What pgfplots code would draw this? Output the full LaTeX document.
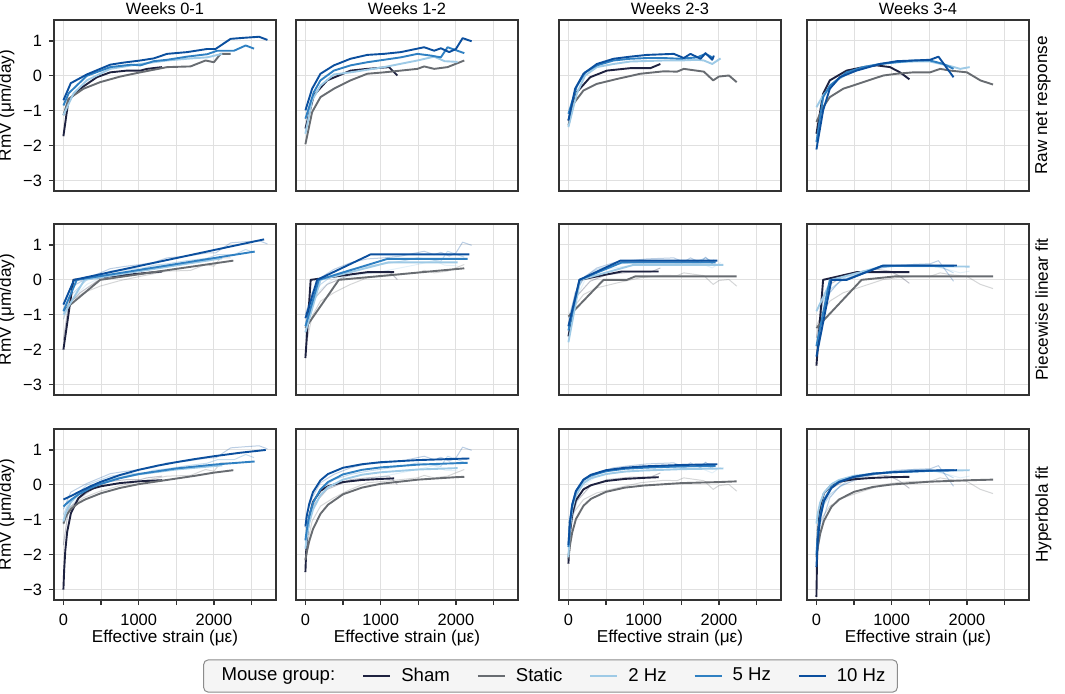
\documentclass[border=0pt]{standalone}
\usepackage{fontspec}
\setmainfont{Liberation Sans}
\usepackage{pgfplots}
\usepackage{pgfplotstable}
\pgfplotsset{compat=1.18}

\definecolor{cSham}{HTML}{1E2240}
\definecolor{cStatic}{HTML}{686C71}
\definecolor{cTwo}{HTML}{9ECAE6}
\definecolor{cFive}{HTML}{2F80C2}
\definecolor{cTen}{HTML}{0B4F9E}

% ---------- raw net response, weeks 0-1 ----------
\pgfplotstableread{
x y
0 -1.73
67 -0.70
222 -0.37
444 -0.04
622 0.10
844 0.15
1022 0.15
1111 0.20
1311 0.25
}\rawAsham
\pgfplotstableread{
x y
0 -1.13
67 -0.66
267 -0.37
489 -0.18
756 -0.02
1022 0.10
1378 0.25
1689 0.27
1889 0.44
2000 0.39
2089 0.63
2222 0.63
}\rawAstat
\pgfplotstableread{
x y
0 -1.13
133 -0.51
311 -0.13
622 0.20
1022 0.34
1378 0.44
1700 0.50
1911 0.53
2111 0.63
}\rawAtwo
\pgfplotstableread{
x y
0 -0.85
70 -0.50
311 0.00
622 0.25
900 0.32
1022 0.30
1200 0.42
1378 0.46
1644 0.55
1911 0.62
2044 0.72
2267 0.72
2422 0.87
2533 0.78
}\rawAfive
\pgfplotstableread{
x y
0 -0.70
98 -0.21
311 0.04
622 0.32
800 0.38
1022 0.44
1200 0.50
1378 0.63
1644 0.68
1911 0.77
2022 0.77
2222 1.06
2400 1.09
2600 1.12
2711 1.03
}\rawAten
% ---------- weeks 1-2 ----------
\pgfplotstableread{
x y
0 -1.51
111 -0.56
289 -0.13
600 0.15
822 0.20
1111 0.25
1222 0.01
}\rawBsham
\pgfplotstableread{
x y
0 -1.96
89 -1.04
200 -0.61
378 -0.37
600 -0.13
822 0.06
1044 0.10
1489 0.20
1578 0.27
1711 0.20
1889 0.25
2111 0.44
}\rawBstat
\pgfplotstableread{
x y
0 -1.66
89 -0.70
200 -0.28
378 0.04
600 0.10
1044 0.25
1489 0.44
1711 0.55
1850 0.42
2022 0.40
}\rawBtwo
\pgfplotstableread{
x y
0 -1.23
111 -0.47
200 -0.13
378 0.15
600 0.30
822 0.39
1267 0.53
1489 0.63
1667 0.58
1800 0.53
1889 0.82
2111 0.65
}\rawBfive
\pgfplotstableread{
x y
0 -0.99
89 -0.37
200 0.06
378 0.30
600 0.49
822 0.60
1044 0.63
1267 0.68
1578 0.82
1711 0.72
1800 0.79
1911 0.68
2000 0.77
2089 1.08
2209 0.99
}\rawBten
% ---------- weeks 2-3 ----------
\pgfplotstableread{
x y
0 -1.28
111 -0.47
289 -0.04
511 0.15
822 0.22
1089 0.22
1222 0.34
}\rawCsham
\pgfplotstableread{
x y
0 -1.42
67 -0.80
200 -0.42
378 -0.23
644 -0.09
956 0.06
1267 0.13
1444 0.12
1533 0.20
1800 0.12
1924 -0.13
2000 -0.02
2133 0.01
2236 -0.18
}\rawCstat
\pgfplotstableread{
x y
0 -1.47
111 -0.51
222 0.01
378 0.25
600 0.34
822 0.41
1267 0.44
1489 0.44
1711 0.46
1800 0.44
1911 0.34
2022 0.50
}\rawCtwo
\pgfplotstableread{
x y
0 -1.09
111 -0.30
222 0.10
378 0.30
600 0.44
822 0.49
1044 0.51
1267 0.51
1489 0.49
1711 0.53
1822 0.63
1911 0.53
}\rawCfive
\pgfplotstableread{
x y
0 -1.28
89 -0.37
200 0.06
378 0.34
600 0.49
822 0.55
1044 0.60
1400 0.63
1533 0.51
1622 0.63
1756 0.49
1822 0.65
1911 0.46
1933 0.58
}\rawCten
% ---------- weeks 3-4 ----------
\pgfplotstableread{
x y
0 -1.66
89 -0.51
178 -0.13
400 0.15
622 0.25
800 0.30
978 0.25
1111 0.10
1236 -0.10
}\rawDsham
\pgfplotstableread{
x y
0 -1.32
89 -0.90
178 -0.61
356 -0.37
622 -0.18
889 0.01
1067 0.06
1289 0.10
1511 0.10
1644 0.20
1778 0.15
2000 0.10
2178 -0.13
2347 -0.25
}\rawDstat
\pgfplotstableread{
x y
0 -0.90
89 -0.56
267 -0.13
444 0.10
622 0.25
844 0.34
1067 0.39
1289 0.41
1511 0.41
1778 0.28
1911 0.20
2036 0.25
}\rawDtwo
\pgfplotstableread{
x y
0 -1.90
89 -0.61
178 -0.28
400 0.10
622 0.25
844 0.34
1067 0.39
1289 0.44
1511 0.44
1689 0.34
1822 0.20
}\rawDfive
\pgfplotstableread{
x y
0 -2.11
89 -0.99
178 -0.37
311 -0.04
533 0.15
844 0.34
1067 0.42
1289 0.44
1511 0.46
1622 0.55
1822 -0.04
}\rawDten

\newcommand{\rawlines}[6]{%
  \addplot[#1,cSham] table {#2};
  \addplot[#1,cStatic] table {#3};
  \addplot[#1,cTwo] table {#4};
  \addplot[#1,cFive] table {#5};
  \addplot[#1,cTen] table {#6};
}

\newcommand{\labfont}{\fontsize{8.6}{10}\selectfont}
\pgfplotsset{
  rawmain/.style={line width=0.95pt},
  rawfaint/.style={line width=0.5pt, opacity=0.28},
  panel/.style={
    scale only axis, width=111pt, height=85.5pt,
    xmin=-125, xmax=2825, ymin=-3.3, ymax=1.6,
    xtick={0,500,1000,1500,2000,2500}, ytick={-3,-2,-1,0,1},
    grid=major, major grid style={draw=black!12, line width=0.5pt},
    axis line style={draw=black!80, line width=0.7pt},
    tick align=outside, major tick length=2.5pt,
    tick style={draw=black!80, line width=0.6pt},
    tick pos=left, xticklabels={}, yticklabels={},
    clip mode=individual,
    font=\fontsize{8.2}{9.8}\selectfont,
    tick label style={font=\fontsize{8.2}{9.8}\selectfont},
    every axis plot/.append style={line width=0.95pt, line join=round},
    no markers,
  },
  noxt/.style={xtick style={draw=none}},
  noyt/.style={ytick style={draw=none}},
  bottomrow/.style={xticklabels={0,{},1000,{},2000,{}},
    xticklabel style={yshift=-0.8pt}},
  leftcol/.style={yticklabels={−3,−2,−1,0,1}},
}
\newcommand{\xlab}{\node[anchor=north, inner sep=0pt, font=\labfont] at (axis description cs:0.5,-0.175) {Effective strain (με)};}
\newcommand{\ylab}{\node[rotate=90, anchor=south, inner sep=0pt, font=\labfont] at (axis description cs:-0.176,0.5) {RmV (μm/day)};}
\newcommand{\rlab}[1]{\node[rotate=90, anchor=north, inner sep=0pt, font=\labfont] at (axis description cs:1.027,0.5) {#1};}
\newcommand{\ttl}[1]{\node[anchor=south, inner sep=0pt, font=\fontsize{8.2}{9.8}\selectfont] at (axis description cs:0.5,1.03) {#1};}

\begin{document}
\begin{tikzpicture}
\useasboundingbox (0,0) rectangle (532.5pt,346.5pt);

% ================= ROW 1 =================
\begin{axis}[panel, noxt, leftcol, at={(27pt,251pt)}, anchor=south west]
\rawlines{rawmain}{\rawAsham}{\rawAstat}{\rawAtwo}{\rawAfive}{\rawAten}
\ylab
\ttl{Weeks 0-1}
\end{axis}
\begin{axis}[panel, noxt, noyt, at={(148pt,251pt)}, anchor=south west]
\rawlines{rawmain}{\rawBsham}{\rawBstat}{\rawBtwo}{\rawBfive}{\rawBten}
\ttl{Weeks 1-2}
\end{axis}
\begin{axis}[panel, noxt, noyt, at={(279.5pt,251pt)}, anchor=south west]
\rawlines{rawmain}{\rawCsham}{\rawCstat}{\rawCtwo}{\rawCfive}{\rawCten}
\ttl{Weeks 2-3}
\end{axis}
\begin{axis}[panel, noxt, noyt, at={(403.5pt,251pt)}, anchor=south west]
\rawlines{rawmain}{\rawDsham}{\rawDstat}{\rawDtwo}{\rawDfive}{\rawDten}
\ttl{Weeks 3-4}
\rlab{Raw net response}
\end{axis}

% ================= ROW 2 =================
\begin{axis}[panel, noxt, leftcol, at={(27pt,149pt)}, anchor=south west]
\rawlines{rawfaint}{\rawAsham}{\rawAstat}{\rawAtwo}{\rawAfive}{\rawAten}
\addplot[cSham] coordinates {(0,-2.0) (133,0) (1311,0.24)};
\addplot[cStatic] coordinates {(0,-0.88) (489,0) (2258,0.55)};
\addplot[cTwo] coordinates {(0,-1.0) (280,0) (2111,0.62)};
\addplot[cFive] coordinates {(0,-0.9) (178,0) (2542,0.81)};
\addplot[cTen] coordinates {(0,-0.71) (142,0) (2667,1.16)};
\ylab
\end{axis}
\begin{axis}[panel, noxt, noyt, at={(148pt,149pt)}, anchor=south west]
\rawlines{rawfaint}{\rawBsham}{\rawBstat}{\rawBtwo}{\rawBfive}{\rawBten}
\addplot[cSham] coordinates {(0,-2.24) (70,0) (822,0.22) (1178,0.22)};
\addplot[cStatic] coordinates {(0,-1.38) (444,0) (2111,0.33)};
\addplot[cTwo] coordinates {(0,-1.5) (200,0) (1100,0.5) (2022,0.5)};
\addplot[cFive] coordinates {(0,-1.33) (178,0) (1089,0.6) (2156,0.6)};
\addplot[cTen] coordinates {(0,-1.1) (156,0) (867,0.73) (2178,0.73)};
\end{axis}
\begin{axis}[panel, noxt, noyt, at={(279.5pt,149pt)}, anchor=south west]
\rawlines{rawfaint}{\rawCsham}{\rawCstat}{\rawCtwo}{\rawCfive}{\rawCten}
\addplot[cSham] coordinates {(0,-1.62) (150,0) (711,0.24) (1200,0.24)};
\addplot[cStatic] coordinates {(0,-1.05) (467,0) (778,0) (889,0.1) (2236,0.1)};
\addplot[cTwo] coordinates {(0,-1.79) (156,0) (867,0.43) (2058,0.43)};
\addplot[cFive] coordinates {(0,-1.45) (147,0) (711,0.5) (1956,0.5)};
\addplot[cTen] coordinates {(0,-1.33) (147,0) (689,0.55) (1978,0.55)};
\end{axis}
\begin{axis}[panel, noxt, noyt, at={(403.5pt,149pt)}, anchor=south west]
\rawlines{rawfaint}{\rawDsham}{\rawDstat}{\rawDtwo}{\rawDfive}{\rawDten}
\addplot[cSham] coordinates {(0,-2.46) (89,0) (533,0.22) (1236,0.22)};
\addplot[cStatic] coordinates {(0,-1.38) (600,0) (1050,0.1) (2347,0.1)};
\addplot[cTwo] coordinates {(0,-0.9) (200,0) (900,0.4) (2036,0.38)};
\addplot[cFive] coordinates {(0,-1.9) (178,0) (400,0) (870,0.4) (1830,0.4)};
\addplot[cTen] coordinates {(0,-2.2) (200,0) (400,0) (889,0.41) (1867,0.41)};
\rlab{Piecewise linear fit}
\end{axis}

% ================= ROW 3 =================
\begin{axis}[panel, bottomrow, leftcol, at={(27pt,46.5pt)}, anchor=south west]
\rawlines{rawfaint}{\rawAsham}{\rawAstat}{\rawAtwo}{\rawAfive}{\rawAten}
\addplot[cSham] coordinates {(0,-3.0) (10,-2.44) (25,-1.89) (50,-1.35) (100,-0.81) (200,-0.38) (300,-0.20) (400,-0.10) (500,-0.04) (750,0.05) (1000,0.10) (1311,0.134)};
\addplot[cStatic] coordinates {(0,-1.11) (25,-0.95) (50,-0.84) (100,-0.69) (200,-0.52) (300,-0.41) (500,-0.24) (750,-0.09) (1000,0.02) (1250,0.10) (1500,0.18) (1750,0.26) (2000,0.35) (2258,0.42)};
\addplot[cTwo] coordinates {(0,-1.05) (25,-0.85) (50,-0.70) (100,-0.50) (200,-0.26) (350,-0.05) (500,0.08) (750,0.20) (1000,0.30) (1500,0.44) (2111,0.56)};
\addplot[cFive] coordinates {(0,-0.62) (50,-0.52) (100,-0.43) (200,-0.28) (350,-0.10) (500,0.03) (750,0.19) (1000,0.31) (1500,0.47) (2000,0.58) (2542,0.67)};
\addplot[cTen] coordinates {(0,-0.42) (100,-0.32) (200,-0.21) (350,-0.05) (500,0.09) (750,0.28) (1000,0.43) (1250,0.55) (1500,0.65) (1750,0.74) (2000,0.82) (2350,0.92) (2689,1.0)};
\ylab
\xlab
\end{axis}
\begin{axis}[panel, bottomrow, noyt, at={(148pt,46.5pt)}, anchor=south west]
\rawlines{rawfaint}{\rawBsham}{\rawBstat}{\rawBtwo}{\rawBfive}{\rawBten}
\addplot[cSham] coordinates {(0,-2.5) (10,-1.92) (20,-1.54) (50,-0.92) (100,-0.49) (200,-0.17) (300,-0.04) (500,0.08) (750,0.14) (1000,0.17) (1180,0.185)};
\addplot[cStatic] coordinates {(0,-2.16) (20,-1.91) (50,-1.62) (100,-1.27) (200,-0.83) (300,-0.57) (500,-0.27) (750,-0.08) (1000,0.03) (1500,0.15) (2000,0.22) (2111,0.23)};
\addplot[cTwo] coordinates {(0,-1.83) (20,-1.48) (50,-1.10) (100,-0.71) (200,-0.29) (300,-0.07) (500,0.15) (750,0.29) (1000,0.36) (1500,0.44) (2022,0.48)};
\addplot[cFive] coordinates {(0,-1.59) (20,-1.26) (50,-0.90) (100,-0.52) (200,-0.13) (300,0.08) (500,0.30) (750,0.43) (1000,0.50) (1500,0.58) (2000,0.62) (2156,0.63)};
\addplot[cTen] coordinates {(0,-1.19) (20,-0.87) (50,-0.55) (100,-0.21) (200,0.13) (300,0.31) (500,0.49) (750,0.59) (1000,0.65) (1500,0.71) (2000,0.745) (2178,0.755)};
\xlab
\end{axis}
\begin{axis}[panel, bottomrow, noyt, at={(279.5pt,46.5pt)}, anchor=south west]
\rawlines{rawfaint}{\rawCsham}{\rawCstat}{\rawCtwo}{\rawCfive}{\rawCten}
\addplot[cSham] coordinates {(0,-2.26) (20,-1.41) (50,-0.85) (100,-0.44) (200,-0.13) (300,-0.01) (500,0.11) (750,0.17) (1000,0.20) (1200,0.22)};
\addplot[cStatic] coordinates {(0,-2.11) (20,-1.74) (50,-1.37) (100,-0.98) (200,-0.60) (300,-0.40) (500,-0.20) (750,-0.08) (1000,-0.02) (1500,0.05) (2000,0.08) (2236,0.10)};
\addplot[cTwo] coordinates {(0,-2.07) (20,-1.26) (50,-0.70) (100,-0.28) (200,0.05) (300,0.19) (500,0.31) (750,0.38) (1000,0.41) (1500,0.45) (2058,0.47)};
\addplot[cFive] coordinates {(0,-1.78) (20,-1.08) (50,-0.57) (100,-0.18) (200,0.14) (300,0.27) (500,0.39) (750,0.46) (1000,0.49) (1500,0.53) (1956,0.54)};
\addplot[cTen] coordinates {(0,-1.73) (20,-1.08) (50,-0.58) (100,-0.18) (200,0.15) (300,0.29) (500,0.42) (750,0.49) (1000,0.53) (1500,0.57) (1978,0.59)};
\xlab
\end{axis}
\begin{axis}[panel, bottomrow, noyt, at={(403.5pt,46.5pt)}, anchor=south west]
\rawlines{rawfaint}{\rawDsham}{\rawDstat}{\rawDtwo}{\rawDfive}{\rawDten}
\addplot[cSham] coordinates {(0,-3.21) (10,-1.94) (20,-1.35) (50,-0.63) (100,-0.24) (200,0.0) (300,0.09) (500,0.16) (750,0.20) (1000,0.22) (1236,0.23)};
\addplot[cStatic] coordinates {(0,-2.07) (20,-1.75) (50,-1.40) (100,-1.03) (200,-0.63) (300,-0.42) (500,-0.20) (750,-0.06) (1000,0.01) (1500,0.09) (2000,0.13) (2347,0.15)};
\addplot[cTwo] coordinates {(0,-1.11) (20,-0.80) (50,-0.51) (100,-0.23) (200,0.02) (300,0.14) (500,0.26) (750,0.32) (1000,0.36) (1500,0.40) (2036,0.42)};
\addplot[cFive] coordinates {(0,-2.0) (20,-1.37) (50,-0.86) (100,-0.43) (200,-0.07) (300,0.09) (500,0.23) (750,0.32) (1000,0.36) (1500,0.40) (1830,0.42)};
\addplot[cTen] coordinates {(0,-2.35) (20,-1.55) (50,-0.95) (100,-0.47) (200,-0.09) (300,0.08) (500,0.23) (750,0.32) (1000,0.36) (1500,0.41) (1867,0.42)};
\rlab{Hyperbola fit}
\xlab
\end{axis}

% ================= LEGEND =================
\begin{axis}[hide axis, scale only axis, width=10pt, height=10pt,
  xmin=0, xmax=1, ymin=0, ymax=1,
  at={(275.25pt,8.5pt)}, anchor=center,
  legend columns=6,
  legend image code/.code={\draw[#1, line width=1pt] (0pt,0pt) -- (13.5pt,0pt);},
  legend style={at={(0.5,0.5)}, anchor=center,
    draw=black!45, fill=black!4, rounded corners=2.5pt, line width=0.5pt,
    font=\fontsize{9.3}{11}\selectfont,
    inner xsep=4pt, inner ysep=2pt,
    /tikz/every odd column/.append style={column sep=3pt},
    /tikz/every even column/.append style={column sep=11.5pt}},
]
\addlegendimage{empty legend}\addlegendentry{Mouse group:}
\addlegendimage{cSham}\addlegendentry{Sham}
\addlegendimage{cStatic}\addlegendentry{Static}
\addlegendimage{cTwo}\addlegendentry{2 Hz}
\addlegendimage{cFive}\addlegendentry{5 Hz}
\addlegendimage{cTen}\addlegendentry{10 Hz}
\end{axis}
\end{tikzpicture}
\end{document}
